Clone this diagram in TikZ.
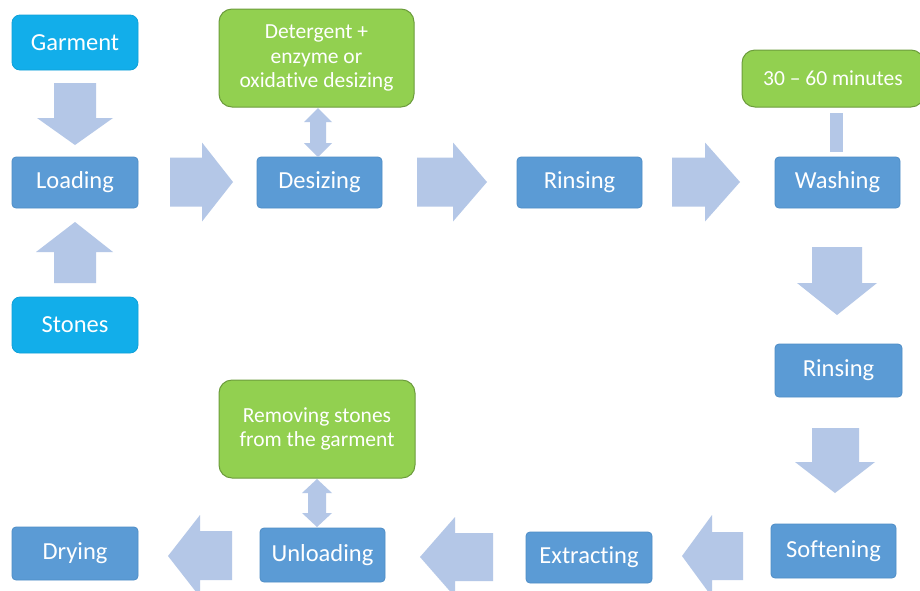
\documentclass[tikz,border=0pt]{standalone}
\usepackage{fontspec}
\setmainfont{Carlito}[Ligatures=NoCommon]
\definecolor{procblue}{HTML}{5B9BD5}
\definecolor{procedge}{HTML}{4F8DC6}
\definecolor{inblue}{HTML}{12AEEA}
\definecolor{inedge}{HTML}{0FA0D8}
\definecolor{notegreen}{HTML}{92D050}
\definecolor{noteedge}{HTML}{6C9C3C}
\definecolor{arrowfill}{HTML}{B4C7E7}
\tikzset{
  procbox/.style={rectangle, rounded corners=4pt, fill=procblue, draw=procedge, line width=0.8pt,
    text=white, font=\fontsize{24.5}{29}\selectfont, inner sep=0pt, align=center},
  inbox/.style={rectangle, rounded corners=8pt, fill=inblue, draw=inedge, line width=0.8pt,
    text=white, font=\fontsize{24.5}{29}\selectfont, inner sep=0pt, align=center,
    minimum width=126pt},
  notebox/.style={rectangle, rounded corners=13pt, fill=notegreen, draw=noteedge, line width=1pt,
    text=white, font=\fontsize{21.5}{24.5}\selectfont, inner sep=0pt, align=center},
  blockarrow/.style={fill=arrowfill, draw=none},
}
\begin{document}
\begin{tikzpicture}[x=1pt,y=-1pt]
\useasboundingbox[fill=white] (0,0) rectangle (920,590);

% input boxes
\node[inbox, minimum height=55pt] (garment) at (75,42.5) {Garment};
\node[inbox, minimum height=56pt] (stones) at (75,325) {Stones};

% process boxes
\node[procbox, minimum width=126pt, minimum height=51pt] (loading) at (75,182.5) {Loading};
\node[procbox, minimum width=125pt, minimum height=51pt] (desizing) at (319.5,182.5) {Desizing};
\node[procbox, minimum width=125pt, minimum height=51pt] (rinsing1) at (579.5,182.5) {Rinsing};
\node[procbox, minimum width=125pt, minimum height=51pt] (washing) at (837.5,182.5) {Washing};
\node[procbox, minimum width=127pt, minimum height=53pt] (rinsing2) at (838.5,370.5) {Rinsing};
\node[procbox, minimum width=125pt, minimum height=54pt] (softening) at (833.5,551) {Softening};
\node[procbox, minimum width=126pt, minimum height=51pt] (extracting) at (589,557.5) {Extracting};
\node[procbox, minimum width=125pt, minimum height=54pt] (unloading) at (322.5,555) {Unloading};
\node[procbox, minimum width=126pt, minimum height=53pt] (drying) at (75,553.5) {Drying};

% note boxes
\node[notebox, minimum width=195pt, minimum height=98pt] (detergent) at (316.5,58)
  {Detergent +\\enzyme or\\oxidative desizing};
\node[notebox, minimum width=182pt, minimum height=57pt] (minutes) at (833,78.5)
  {30 -- 60 minutes};
\node[notebox, minimum width=196pt, minimum height=98pt] (removing) at (317,429)
  {Removing stones\\from the garment};

% Garment -> Loading (down)
\fill[blockarrow] (54,83) -- (96,83) -- (96,118) -- (113,118) -- (75,145) -- (37,118) -- (54,118) -- cycle;
% Stones -> Loading (up)
\fill[blockarrow] (54,283) -- (96,283) -- (96,252) -- (113,252) -- (75,222) -- (36,252) -- (54,252) -- cycle;

% right arrows
\fill[blockarrow] (170,157.5) -- (202,157.5) -- (202,142.5) -- (233,182) -- (202,221.5) -- (202,206.5) -- (170,206.5) -- cycle;
\fill[blockarrow] (417,157.5) -- (453,157.5) -- (453,142.5) -- (487,182) -- (453,221.5) -- (453,206.5) -- (417,206.5) -- cycle;
\fill[blockarrow] (672,157.5) -- (705,157.5) -- (705,142.5) -- (740,182) -- (705,221.5) -- (705,206.5) -- (672,206.5) -- cycle;

% down arrows on the right
\fill[blockarrow] (812,247) -- (862,247) -- (862,283) -- (877,283) -- (837,315) -- (797,283) -- (812,283) -- cycle;
\fill[blockarrow] (812,428) -- (859,428) -- (859,462) -- (875,462) -- (835,493) -- (795,462) -- (812,462) -- cycle;

% left arrows
\fill[blockarrow] (743,532) -- (712,532) -- (712,515) -- (682,556) -- (712,597) -- (712,580) -- (743,580) -- cycle;
\fill[blockarrow] (493,533) -- (455,533) -- (455,517) -- (420,557) -- (455,597) -- (455,581) -- (493,581) -- cycle;
\fill[blockarrow] (232,531) -- (200,531) -- (200,515) -- (168,556) -- (200,597) -- (200,580) -- (232,580) -- cycle;

% double arrows
\fill[blockarrow] (318,108) -- (332,122) -- (326,122) -- (326,143) -- (332,143) -- (318,157) -- (304,143) -- (310,143) -- (310,122) -- (304,122) -- cycle;
\fill[blockarrow] (317,479) -- (332,493) -- (326,493) -- (326,513) -- (332,513) -- (317,527) -- (302,513) -- (308,513) -- (308,493) -- (302,493) -- cycle;

% connector minutes -> washing
\fill[blockarrow] (830,113) rectangle (843,152);
\end{tikzpicture}
\end{document}
